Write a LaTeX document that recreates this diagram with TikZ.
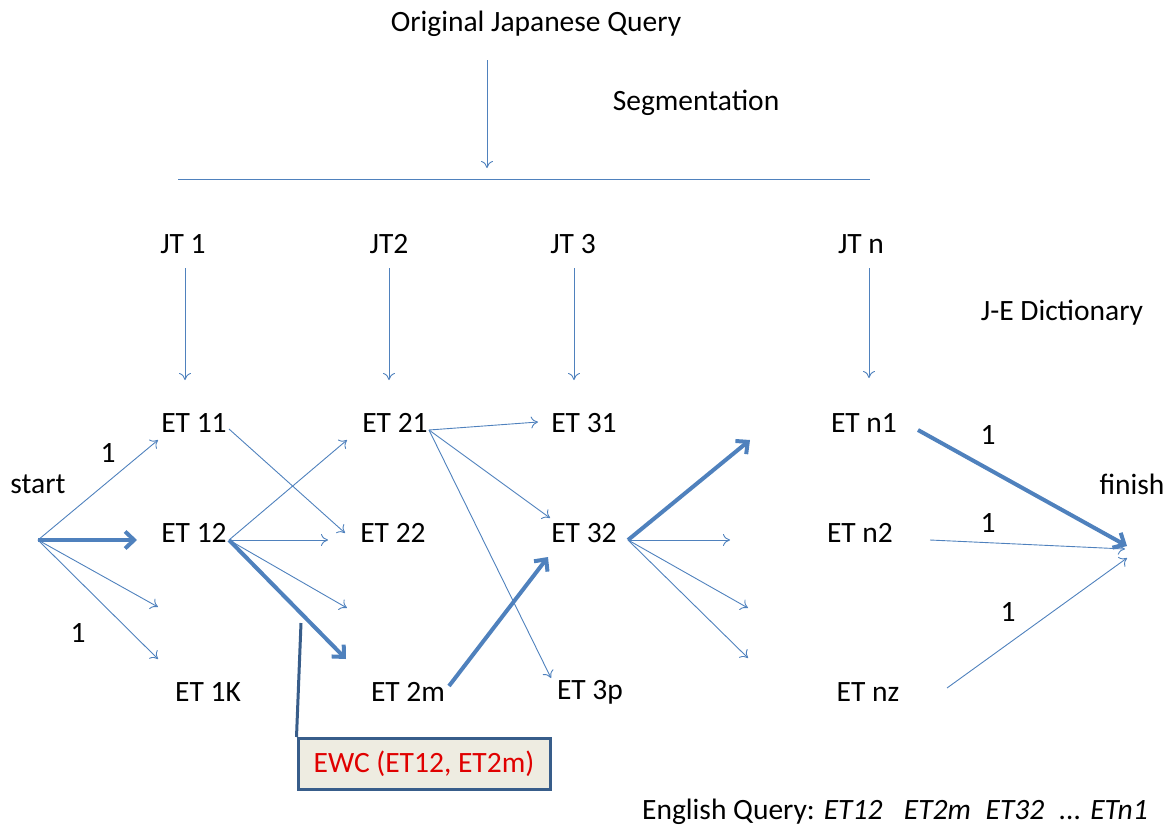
\documentclass[tikz,border=0pt]{standalone}
\usepackage{fontspec}
\setmainfont{Carlito}
\usetikzlibrary{arrows.meta}
\definecolor{ablue}{HTML}{4F81BD}
\definecolor{bdark}{HTML}{385D8A}
\definecolor{boxfill}{HTML}{EEECE1}
\definecolor{ewcred}{HTML}{E00000}
\begin{document}
\begin{tikzpicture}[x=1pt,y=-1pt,
  lbl/.style={inner sep=0pt,font=\fontsize{29.5}{34}\selectfont},
  thin/.style={draw=ablue,line width=0.9pt,-{To[length=7pt,width=12pt]}},
  thick/.style={draw=ablue,line width=4pt,-{Straight Barb[length=9pt,width=17pt]}},
  plain/.style={draw=ablue,line width=0.9pt}]
\useasboundingbox (0,0) rectangle (1169,825);
% texts
\node[lbl] (q) at (536,24) {Original Japanese Query};
\node[lbl] (seg) at (696,103) {Segmentation};
\node[lbl] (jt1) at (183,244) {JT 1};
\node[lbl] (jt2) at (389,244) {JT2};
\node[lbl] (jt3) at (573,244) {JT 3};
\node[lbl] (jtn) at (861,244) {JT n};
\node[lbl] (dict) at (1062,313) {J-E Dictionary};
\node[lbl] (et11) at (194,423) {ET 11};
\node[lbl] (et21) at (395,423) {ET 21};
\node[lbl] (et31) at (584,423) {ET 31};
\node[lbl] (etn1) at (864,423) {ET n1};
\node[lbl] (et12) at (194,533) {ET 12};
\node[lbl] (et22) at (393,533) {ET 22};
\node[lbl] (et32) at (584,533) {ET 32};
\node[lbl] (etn2) at (860,533) {ET n2};
\node[lbl] (et1k) at (208,692) {ET 1K};
\node[lbl] (et2m) at (408,692) {ET 2m};
\node[lbl] (et3p) at (590,692) {ET 3p};
\node[lbl] (etnz) at (868,692) {ET nz};
\node[lbl] (start) at (38,484) {start};
\node[lbl] (finish) at (1132,484) {finish};
\node[lbl] (w1) at (108,453) {1};
\node[lbl] (w2) at (78,633) {1};
\node[lbl] (w3) at (988,435) {1};
\node[lbl] (w4) at (988,523) {1};
\node[lbl] (w5) at (1008,612) {1};
\node[lbl,anchor=west] (eq) at (642,812) {English Query: \textit{ET12\enspace\ ET2m\enspace ET32\enspace ... ETn1}};
% EWC box
\node[draw=bdark,line width=3pt,fill=boxfill,minimum width=252pt,minimum height=51pt,inner sep=0pt,
      font=\fontsize{29.5}{34}\selectfont,text=ewcred] (ewc) at (424,764) {EWC (ET12, ET2m)};
\coordinate (ewcl) at (301,623);
\draw[bdark,line width=3pt] (ewcl) -- (ewc.north west);
% segmentation
\coordinate (qa) at (487,60);
\coordinate (qb) at (487,168);
\draw[thin] (qa) -- (qb);
\coordinate (hl) at (178,179);
\coordinate (hr) at (870,179);
\draw[plain] (hl) -- (hr);
% dictionary arrows
\coordinate (a1) at (185,268); \coordinate (b1) at (185,380);
\coordinate (a2) at (389,268); \coordinate (b2) at (389,380);
\coordinate (a3) at (574,268); \coordinate (b3) at (574,380);
\coordinate (a4) at (869,268); \coordinate (b4) at (869,378);
\draw[thin] (a1) -- (b1);
\draw[thin] (a2) -- (b2);
\draw[thin] (a3) -- (b3);
\draw[thin] (a4) -- (b4);
% start
\coordinate (s0) at (38,540);
\coordinate (s1) at (158,440);
\coordinate (s2) at (137,540);
\coordinate (s3) at (158,607);
\coordinate (s4) at (158,659);
\draw[thin] (s0) -- (s1);
\draw[thick] (s0) -- (s2);
\draw[thin] (s0) -- (s3);
\draw[thin] (s0) -- (s4);
% ET11
\coordinate (e11) at (229,429);
\coordinate (t22) at (345,533);
\draw[thin] (e11) -- (t22);
% ET12
\coordinate (e12) at (229,540);
\coordinate (t21) at (347,440);
\coordinate (t22b) at (328,540);
\coordinate (t2x) at (347,608);
\coordinate (t2m) at (346,659);
\draw[thin] (e12) -- (t21);
\draw[thin] (e12) -- (t22b);
\draw[thin] (e12) -- (t2x);
\draw[thick] (e12) -- (t2m);
% ET21
\coordinate (e21) at (429,430);
\coordinate (t31) at (538,422);
\coordinate (t32) at (550,518);
\coordinate (t3p) at (551,678);
\draw[thin] (e21) -- (t31);
\draw[thin] (e21) -- (t32);
\draw[thin] (e21) -- (t3p);
% ET2m
\coordinate (e2m) at (449,686);
\coordinate (t32b) at (548,557);
\draw[thick] (e2m) -- (t32b);
% ET32
\coordinate (e32) at (628,540);
\coordinate (tn1) at (750,440);
\coordinate (tn2) at (730,540);
\coordinate (tnx) at (748,608);
\coordinate (tny) at (748,658);
\draw[thick] (e32) -- (tn1);
\draw[thin] (e32) -- (tn2);
\draw[thin] (e32) -- (tnx);
\draw[thin] (e32) -- (tny);
% to finish
\coordinate (en1) at (918,430);
\coordinate (en2) at (930,540);
\coordinate (enz) at (947,688);
\coordinate (f1) at (1127,546);
\coordinate (f2) at (1125,549);
\coordinate (f3) at (1127,558);
\draw[thick] (en1) -- (f1);
\draw[thin] (en2) -- (f2);
\draw[thin] (enz) -- (f3);
\end{tikzpicture}
\end{document}
